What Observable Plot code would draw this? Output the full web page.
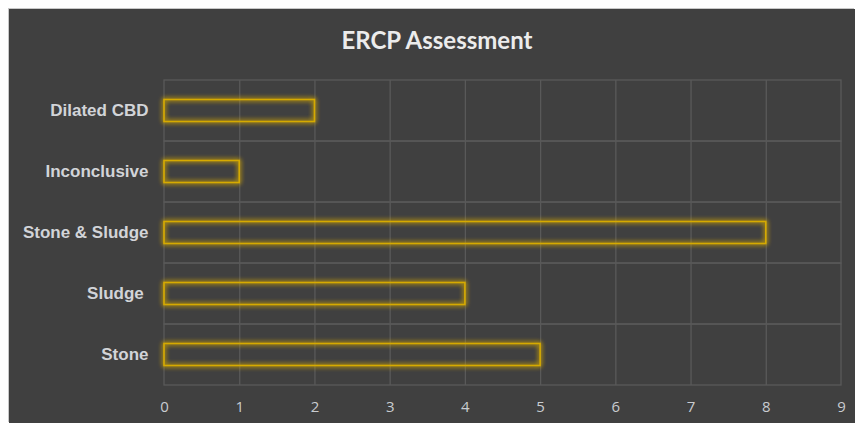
<!DOCTYPE html>
<html>
<head>
<meta charset="utf-8">
<script src="https://cdn.jsdelivr.net/npm/d3@7"></script>
<script src="https://cdn.jsdelivr.net/npm/@observablehq/plot@0.6"></script>
<style>
  html, body { margin: 0; padding: 0; background: #ffffff; }
  #wrap {
    position: absolute; left: 9px; top: 9px; width: 846px; height: 414px;
    background: #404040; overflow: hidden;
    box-shadow: -1px -1px 0 #c8c8c8;
  }
  #title {
    height: 55px; text-align: center; color: #ececec;
    font: bold 24px Lato, "Open Sans", sans-serif; line-height: 62px;
    padding-left: 10px; box-sizing: border-box;
  }
  #chart svg { display: block; }
</style>
</head>
<body>
<div id="wrap">
  <div id="title">ERCP Assessment</div>
  <div id="chart"></div>
</div>
<script>
const categories = ["Dilated CBD", "Inconclusive", "Stone & Sludge", "Sludge ", "Stone"];
const values = [2, 1, 8, 4, 5];
const xTicks = [0, 1, 2, 3, 4, 5, 6, 7, 8, 9];
const gridLines = [1, 2, 3, 4, 5, 6, 7, 8];

const data = categories.map((c, i) => ({category: c, value: values[i]}));

const gridColor = "#595959";
const barColor = "#d6aa00";

const plot = Plot.plot({
  width: 846,
  height: 359,
  marginLeft: 155,
  marginRight: 14,
  marginTop: 16,
  marginBottom: 38,
  style: {background: "transparent", color: "#d4d6da", overflow: "visible"},
  x: {domain: [0, 9], ticks: xTicks, tickSize: 0, tickPadding: 16, label: null, axis: "bottom"},
  y: {domain: categories, padding: 0, tickSize: 0, tickPadding: 16, label: null, axis: "left",
      tickFormat: d => d.replace(/ $/, "\u00a0")},
  marks: [
    Plot.rect(categories, {x1: 0, x2: 9, y: d => d, stroke: gridColor, strokeWidth: 1.3, fill: "none"}),
    Plot.ruleX(gridLines, {stroke: gridColor, strokeWidth: 1.3}),
    Plot.barX(data, {x: "value", y: "category", fill: "none", stroke: barColor, strokeWidth: 1.6,
      insetTop: 19.5, insetBottom: 19.5})
  ]
});

document.getElementById("chart").appendChild(plot);

const svg = d3.select(plot);
svg.selectAll('[aria-label^="y-axis"] text')
  .style("font", 'bold 17px "Liberation Sans", Arial, sans-serif').style("fill", "#d2d4d8");
svg.selectAll('[aria-label^="x-axis"] text')
  .style("font", '15px "Open Sans", Lato, sans-serif').style("fill", "#c9ccd0");

// glow filter on bars
const defs = svg.insert("defs", ":first-child");
const f = defs.append("filter").attr("id", "glow")
  .attr("x", "-20%").attr("y", "-80%").attr("width", "140%").attr("height", "260%");
f.append("feGaussianBlur").attr("in", "SourceGraphic").attr("stdDeviation", 2.8).attr("result", "b");
const m = f.append("feMerge");
m.append("feMergeNode").attr("in", "b");
m.append("feMergeNode").attr("in", "b");
m.append("feMergeNode").attr("in", "SourceGraphic");
svg.selectAll('g[aria-label="bar"]').attr("filter", "url(#glow)");
</script>
</body>
</html>
